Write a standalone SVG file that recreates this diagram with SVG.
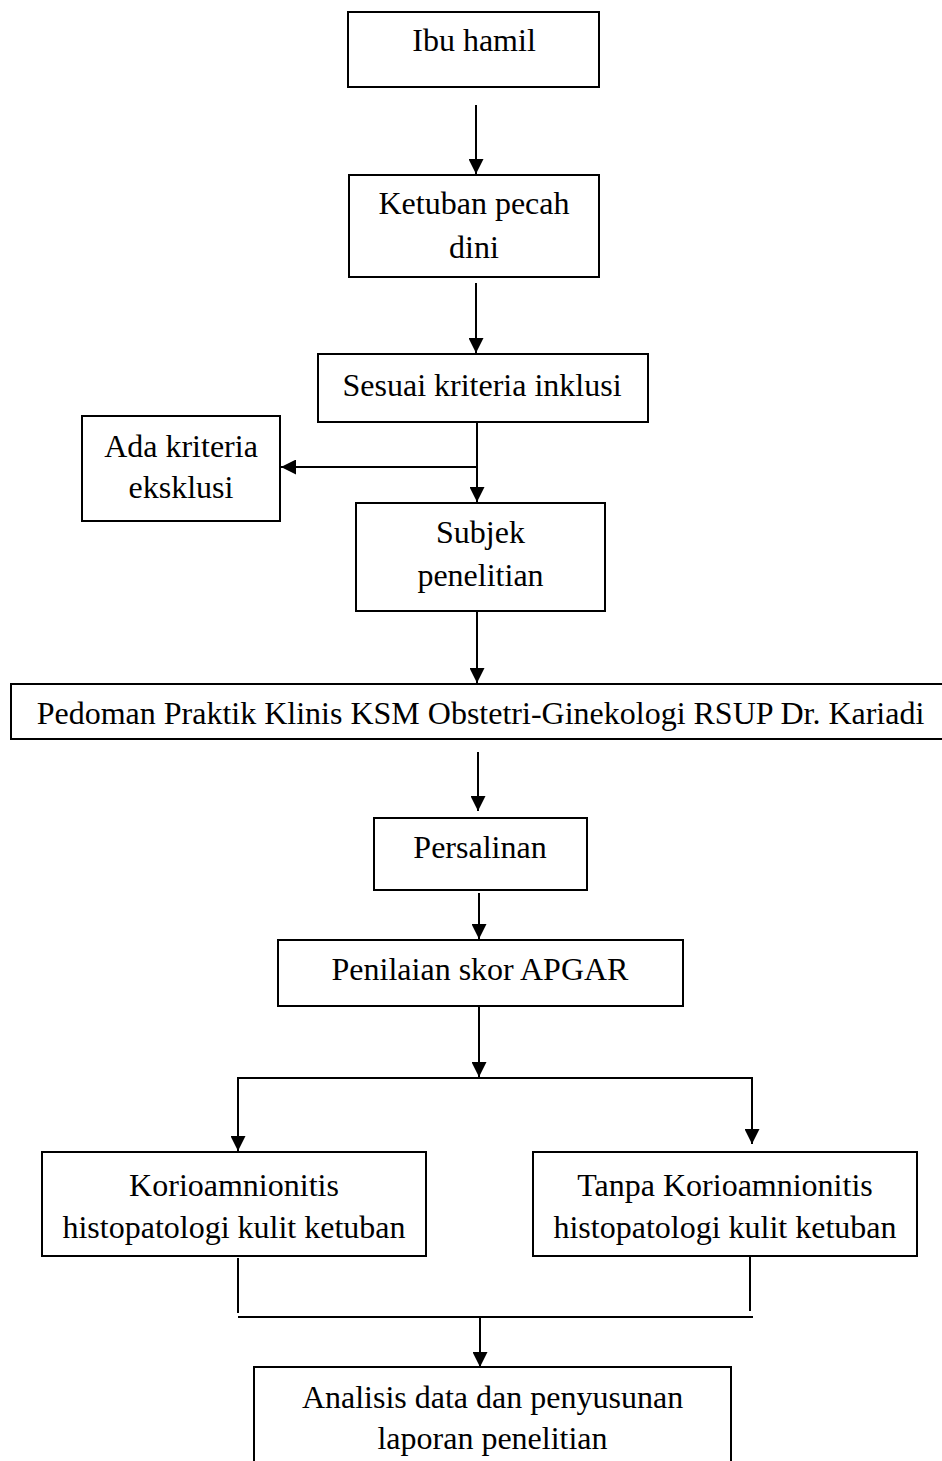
<svg xmlns="http://www.w3.org/2000/svg" width="942" height="1461" viewBox="0 0 942 1461">
<style>
.box{fill:#fff;stroke:#000;stroke-width:2}
.t{font-family:"Liberation Serif","Times New Roman",serif;font-size:32px;fill:#000;text-anchor:middle}
.c{fill:none;stroke:#000;stroke-width:2}
</style>
<defs>
<marker id="ah" markerUnits="userSpaceOnUse" markerWidth="15" markerHeight="15" refX="15" refY="7.5" orient="auto">
<path d="M0,0 L15,7.5 L0,15 z" fill="#000"/>
</marker>
</defs>
<rect width="942" height="1461" fill="#fff"/>
<g id="n1"><rect class="box" x="348" y="12" width="251" height="75"/><text class="t" x="474" y="51">Ibu hamil</text></g>
<g id="n2"><rect class="box" x="349" y="175" width="250" height="102"/><text class="t" x="474" y="214">Ketuban pecah</text><text class="t" x="474" y="258">dini</text></g>
<g id="n3"><rect class="box" x="318" y="354" width="330" height="68"/><text class="t" x="482" y="396">Sesuai kriteria inklusi</text></g>
<g id="n4"><rect class="box" x="82" y="416" width="198" height="105"/><text class="t" x="181" y="457">Ada kriteria</text><text class="t" x="181" y="498">eksklusi</text></g>
<g id="n5"><rect class="box" x="356" y="503" width="249" height="108"/><text class="t" x="480.5" y="543">Subjek</text><text class="t" x="480.5" y="586">penelitian</text></g>
<g id="n6"><rect class="box" x="11" y="684" width="945" height="55"/><text class="t" x="480.5" y="724">Pedoman Praktik Klinis KSM Obstetri-Ginekologi RSUP Dr. Kariadi</text></g>
<g id="n7"><rect class="box" x="374" y="818" width="213" height="72"/><text class="t" x="480" y="858">Persalinan</text></g>
<g id="n8"><rect class="box" x="278" y="940" width="405" height="66"/><text class="t" x="480" y="980">Penilaian skor APGAR</text></g>
<g id="n9"><rect class="box" x="42" y="1152" width="384" height="104"/><text class="t" x="234" y="1196">Korioamnionitis</text><text class="t" x="234" y="1238">histopatologi kulit ketuban</text></g>
<g id="n10"><rect class="box" x="533" y="1152" width="384" height="104"/><text class="t" x="725" y="1196">Tanpa Korioamnionitis</text><text class="t" x="725" y="1238">histopatologi kulit ketuban</text></g>
<g id="n11"><rect class="box" x="254" y="1367" width="477" height="110"/><text class="t" x="492.5" y="1408">Analisis data dan penyusunan</text><text class="t" x="492.5" y="1449">laporan penelitian</text></g>
<g id="connectors">
<line class="c" x1="476" y1="105" x2="476" y2="174" marker-end="url(#ah)"/>
<line class="c" x1="476" y1="283" x2="476" y2="353" marker-end="url(#ah)"/>
<line class="c" x1="477" y1="422" x2="477" y2="502" marker-end="url(#ah)"/>
<line class="c" x1="477" y1="467" x2="281" y2="467" marker-end="url(#ah)"/>
<line class="c" x1="477" y1="611" x2="477" y2="683" marker-end="url(#ah)"/>
<line class="c" x1="478" y1="752" x2="478" y2="811" marker-end="url(#ah)"/>
<line class="c" x1="479" y1="893" x2="479" y2="939" marker-end="url(#ah)"/>
<line class="c" x1="479" y1="1006" x2="479" y2="1077" marker-end="url(#ah)"/>
<polyline class="c" points="238,1151 238,1078 752,1078 752,1144"/>
<line class="c" x1="238" y1="1140" x2="238" y2="1151" marker-end="url(#ah)"/>
<line class="c" x1="752" y1="1133" x2="752" y2="1144" marker-end="url(#ah)"/>
<line class="c" x1="238" y1="1258" x2="238" y2="1313"/>
<line class="c" x1="750" y1="1257" x2="750" y2="1311"/>
<line class="c" x1="238" y1="1317" x2="753" y2="1317"/>
<line class="c" x1="480" y1="1317" x2="480" y2="1367" marker-end="url(#ah)"/>
</g>
</svg>
